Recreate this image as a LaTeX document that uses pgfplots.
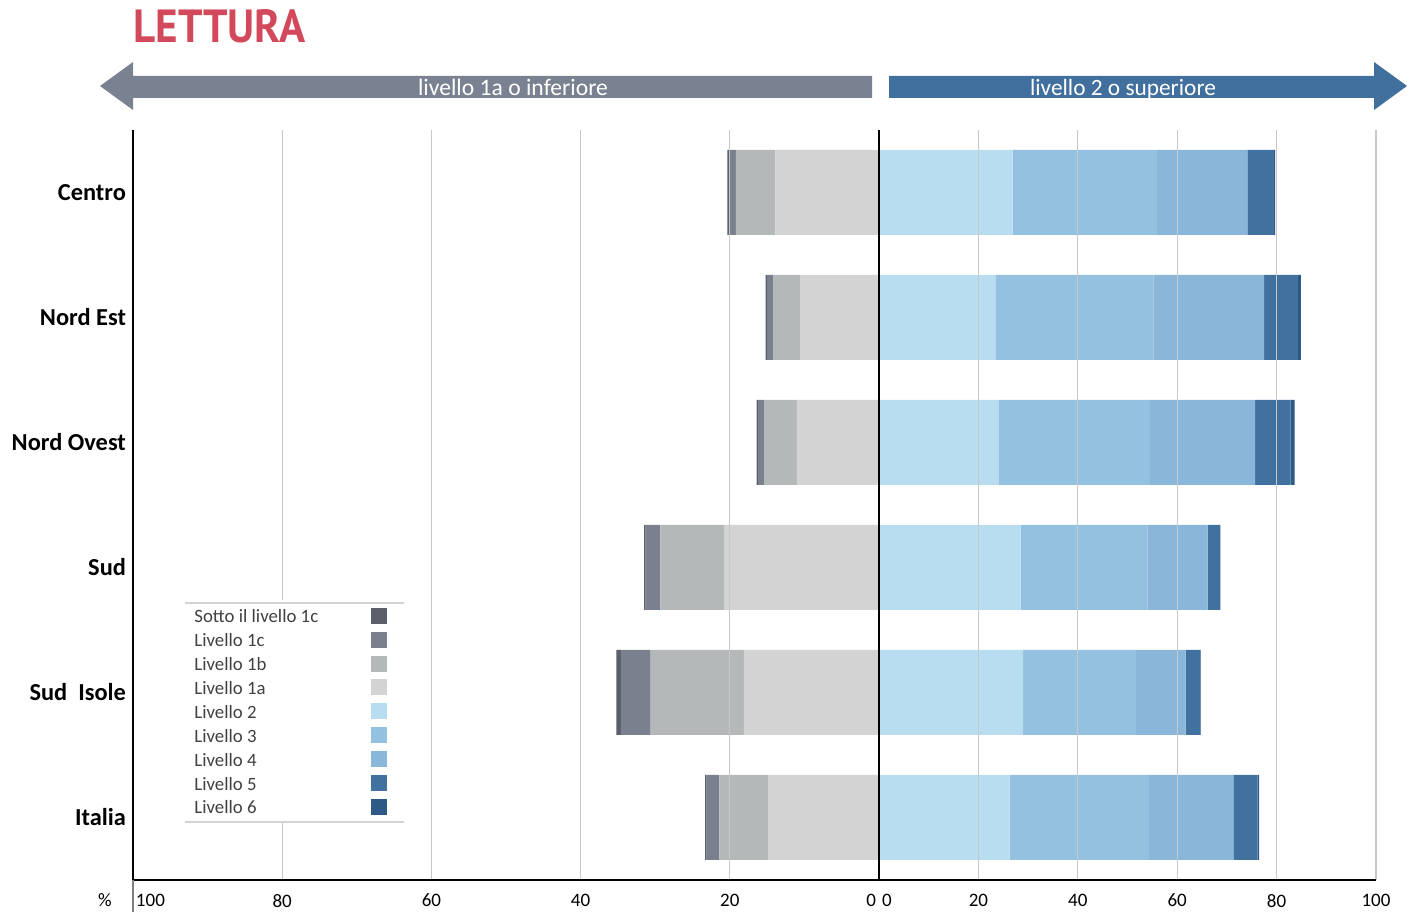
\documentclass[border=0pt]{standalone}
\usepackage{fontspec}
\setmainfont{Carlito}
\newfontfamily\titlefont{PT Sans}
\usepackage{pgfplots}
\pgfplotsset{compat=1.18}
\definecolor{cSotto}{HTML}{5B5F69}
\definecolor{cOneC}{HTML}{7A808E}
\definecolor{cOneB}{HTML}{B4B8B9}
\definecolor{cOneA}{HTML}{D3D3D3}
\definecolor{cTwo}{HTML}{B9DDF0}
\definecolor{cThree}{HTML}{93C1DF}
\definecolor{cFour}{HTML}{8AB7D9}
\definecolor{cFive}{HTML}{41729F}
\definecolor{cSix}{HTML}{2D5986}
\definecolor{gridc}{HTML}{C8C8C8}
\definecolor{titlered}{HTML}{D2495B}
\definecolor{arrowgray}{HTML}{7A8190}
\definecolor{arrowblue}{HTML}{41709F}
\definecolor{legtext}{HTML}{404040}
\pgfplotsset{sqleg/.style={legend image code/.code={\path[draw=none, fill=none] (0pt,-1pt) rectangle (8pt,7pt);\fill[#1, draw=none, overlay] (0pt,-3pt) rectangle (8pt,5pt);}}}
\begin{document}
\begin{tikzpicture}[x=1pt,y=1pt]
\useasboundingbox (0,0) rectangle (703.5,457.5);
% left axis
\begin{axis}[
  at={(66.5pt,17.5pt)}, anchor=south west,
  width=373pt, height=375pt, scale only axis,
  xbar stacked, bar width=42.5pt,
  xmin=-100, xmax=0, ymin=-0.5, ymax=5.5,
  axis x line*=bottom, axis y line*=left,
  axis line style={black, line width=0.7pt},
  axis on top,
  xtick={-100,-80,-60,-40,-20,0},
  xticklabels={\makebox[0pt][l]{\hspace{1.5pt}100},80,60,40,20,\makebox[0pt][r]{0\hspace{1.5pt}}},
  ytick={0,1,2,3,4,5},
  yticklabels={Italia,Sud\ \ Isole,Sud,Nord Ovest,Nord Est,Centro},
  yticklabel style={font=\fontsize{12.2}{14}\selectfont\bfseries},
  xticklabel style={font=\fontsize{9.5}{11}\selectfont, yshift=-3.5pt},
  major tick length=0pt, tick style={draw=none},
  xmajorgrids, grid style={gridc, line width=0.65pt},
  legend style={at={(axis description cs:0.0697,0.3733)}, anchor=north west,
    draw=none, fill=white, legend cell align=left, text=legtext,
    font=\fontsize{9.4}{11}\selectfont,
    nodes={inner sep=0pt, text height=7pt, text depth=2pt},
    row sep=0.45pt, column sep=26.5pt, inner xsep=4.5pt, inner ysep=1.65pt},
  legend plot pos=right,
]
\addplot[fill=cOneA, draw=none, forget plot] coordinates {(-14.8,0) (-18.1,1) (-20.7,2) (-11.0,3) (-10.5,4) (-13.9,5)};
\addplot[fill=cOneB, draw=none, forget plot] coordinates {(-6.6,0) (-12.5,1) (-8.6,2) (-4.4,3) (-3.7,4) (-5.3,5)};
\addplot[fill=cOneC, draw=none, forget plot] coordinates {(-1.7,0) (-4.0,1) (-2.0,2) (-0.8,3) (-0.8,4) (-0.86,5)};
\addplot[fill=cSotto, draw=none, forget plot] coordinates {(-0.2,0) (-0.6,1) (-0.2,2) (-0.2,3) (-0.2,4) (-0.27,5)};
\addlegendimage{sqleg=cSotto}\addlegendentry{Sotto il livello 1c}
\addlegendimage{sqleg=cOneC}\addlegendentry{Livello 1c}
\addlegendimage{sqleg=cOneB}\addlegendentry{Livello 1b}
\addlegendimage{sqleg=cOneA}\addlegendentry{Livello 1a}
\addlegendimage{sqleg=cTwo}\addlegendentry{Livello 2}
\addlegendimage{sqleg=cThree}\addlegendentry{Livello 3}
\addlegendimage{sqleg=cFour}\addlegendentry{Livello 4}
\addlegendimage{sqleg=cFive}\addlegendentry{Livello 5}
\addlegendimage{sqleg=cSix}\addlegendentry{Livello 6}
\end{axis}
% right axis
\begin{axis}[
  at={(439.5pt,17.5pt)}, anchor=south west,
  width=248.5pt, height=375pt, scale only axis,
  xbar stacked, bar width=42.5pt,
  xmin=0, xmax=100, ymin=-0.5, ymax=5.5,
  axis x line*=bottom, axis y line*=left,
  axis line style={black, line width=0.7pt},
  axis on top,
  xtick={0,20,40,60,80,100},
  xticklabels={\makebox[0pt][l]{\hspace{1.5pt}0},20,40,60,80,100},
  ytick=\empty,
  xticklabel style={font=\fontsize{9.5}{11}\selectfont, yshift=-3.5pt},
  major tick length=0pt, tick style={draw=none},
  xmajorgrids, grid style={gridc, line width=0.65pt},
]
\addplot[fill=cTwo, draw=none] coordinates {(26.3,0) (29.0,1) (28.5,2) (24.1,3) (23.4,4) (26.9,5)};
\addplot[fill=cThree, draw=none] coordinates {(28.0,0) (22.7,1) (25.5,2) (30.4,3) (31.8,4) (29.0,5)};
\addplot[fill=cFour, draw=none] coordinates {(17.0,0) (10.0,1) (12.1,2) (21.2,3) (22.3,4) (18.2,5)};
\addplot[fill=cFive, draw=none] coordinates {(4.9,0) (2.9,1) (2.5,2) (7.1,3) (6.8,4) (5.4,5)};
\addplot[fill=cSix, draw=none] coordinates {(0.3,0) (0.1,1) (0.1,2) (0.8,3) (0.6,4) (0.2,5)};
\end{axis}
% legend rules
\draw[gridc!80, line width=0.7pt] (92.5,156) -- (202,156);
\draw[gridc!80, line width=0.7pt] (92.5,46.5) -- (202,46.5);
% percent and small rule
\draw[gray, line width=1pt] (66.5,17.5) -- (66.5,1.5);
\node[font=\fontsize{9.5}{11}\selectfont, anchor=center] at (52.5,7.5) {\%};
% title
\node[anchor=south west, inner sep=0pt, text=titlered] at (66.5,436) {\resizebox{86pt}{16.5pt}{\titlefont\bfseries LETTURA}};
% arrows
\fill[arrowgray] (50,414.5) -- (66.5,426.5) -- (66.5,419.5) -- (436,419.5) -- (436,408.5) -- (66.5,408.5) -- (66.5,402.5) -- cycle;
\fill[arrowblue] (444.5,419.5) -- (687,419.5) -- (687,426.5) -- (703.5,414.5) -- (687,402.5) -- (687,408.5) -- (444.5,408.5) -- cycle;
\node[anchor=base, inner sep=0pt, text=white] at (256.5,409.5) {\resizebox{95pt}{!}{livello 1a o inferiore}};
\node[anchor=base, inner sep=0pt, text=white] at (561.5,409.5) {\resizebox{93pt}{!}{livello 2 o superiore}};
\end{tikzpicture}
\end{document}
